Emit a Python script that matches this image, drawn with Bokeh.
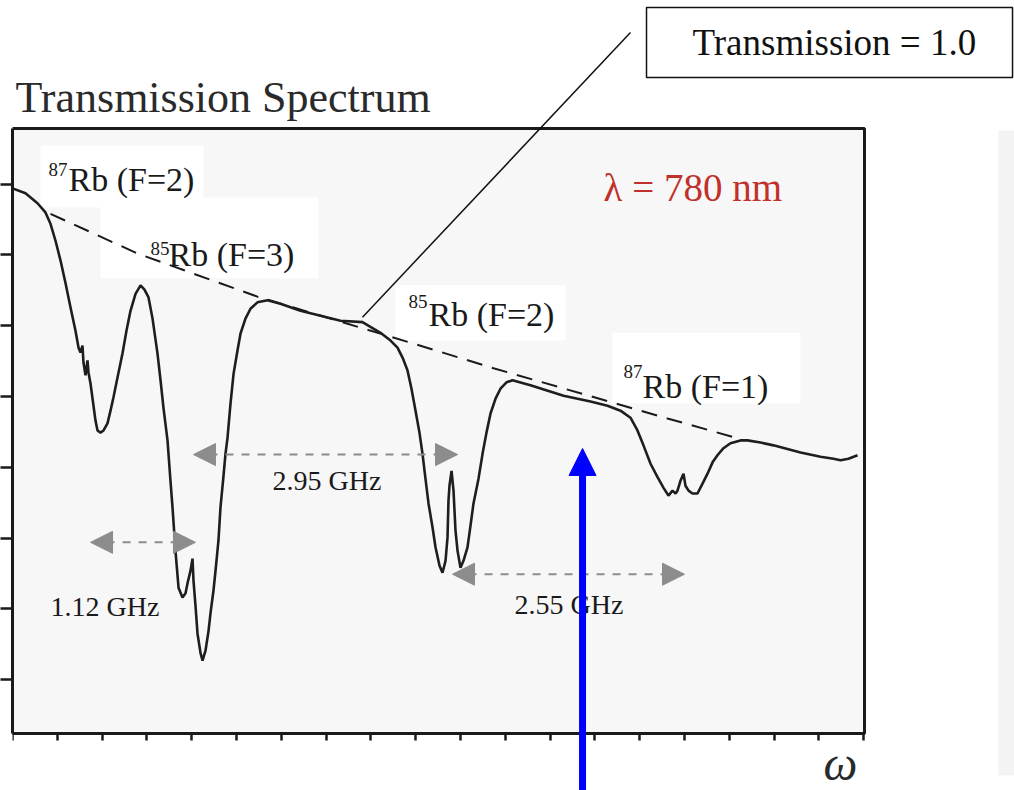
from bokeh.plotting import figure
from bokeh.models import Range1d, FixedTicker, Arrow, NormalHead
from bokeh.core.properties import value
from bokeh.embed import file_html
from bokeh.resources import INLINE

# ---------------- data ----------------
freq_ghz = [0.000, 0.145, 0.279, 0.368, 0.424, 0.480, 0.536, 0.592, 0.647, 0.703,
            0.737, 0.759, 0.781, 0.792, 0.815, 0.837, 0.848, 0.871, 0.904, 0.926,
            0.949, 0.982, 1.016, 1.060, 1.094, 1.127, 1.172, 1.228, 1.272, 1.317,
            1.373, 1.429, 1.473, 1.518, 1.563, 1.618, 1.652, 1.685, 1.730, 1.763,
            1.786, 1.819, 1.853, 1.897, 1.931, 1.953, 1.987, 2.009, 2.020, 2.042,
            2.065, 2.098, 2.121, 2.154, 2.188, 2.210, 2.243, 2.266, 2.299, 2.321,
            2.355, 2.377, 2.400, 2.433, 2.467, 2.511, 2.545, 2.600, 2.656, 2.734,
            2.846, 2.991, 3.214, 3.438, 3.661, 3.906, 4.107, 4.219, 4.297, 4.353,
            4.408, 4.453, 4.498, 4.542, 4.576, 4.609, 4.643, 4.688, 4.721, 4.766,
            4.799, 4.833, 4.855, 4.866, 4.877, 4.900, 4.922, 4.944, 4.967, 5.000,
            5.033, 5.078, 5.112, 5.145, 5.201, 5.246, 5.290, 5.335, 5.391, 5.446,
            5.513, 5.580, 5.781, 6.150, 6.451, 6.641, 6.786, 6.897, 6.975, 7.042,
            7.121, 7.199, 7.266, 7.321, 7.366, 7.400, 7.422, 7.455, 7.489, 7.511,
            7.545, 7.589, 7.645, 7.701, 7.757, 7.813, 7.868, 7.935, 8.013, 8.125,
            8.203, 8.348, 8.493, 8.795, 9.018, 9.163, 9.241, 9.330, 9.431]
transmission = [0.794, 0.787, 0.773, 0.760, 0.744, 0.720, 0.692, 0.660, 0.626, 0.593,
                0.569, 0.562, 0.572, 0.548, 0.530, 0.551, 0.534, 0.518, 0.487, 0.466,
                0.452, 0.449, 0.452, 0.462, 0.480, 0.499, 0.527, 0.561, 0.593, 0.621,
                0.645, 0.657, 0.651, 0.640, 0.610, 0.561, 0.523, 0.484, 0.438, 0.381,
                0.343, 0.282, 0.230, 0.216, 0.222, 0.236, 0.254, 0.271, 0.240, 0.205,
                0.165, 0.138, 0.127, 0.141, 0.169, 0.194, 0.226, 0.254, 0.297, 0.343,
                0.388, 0.419, 0.442, 0.490, 0.532, 0.565, 0.589, 0.610, 0.624, 0.633,
                0.636, 0.631, 0.621, 0.614, 0.607, 0.605, 0.590, 0.579, 0.569, 0.555,
                0.537, 0.511, 0.480, 0.449, 0.419, 0.384, 0.349, 0.315, 0.287, 0.261,
                0.251, 0.268, 0.301, 0.353, 0.374, 0.395, 0.367, 0.311, 0.282, 0.258,
                0.268, 0.287, 0.318, 0.349, 0.384, 0.419, 0.449, 0.476, 0.497, 0.511,
                0.520, 0.523, 0.516, 0.501, 0.493, 0.487, 0.480, 0.470, 0.452, 0.431,
                0.405, 0.386, 0.371, 0.360, 0.367, 0.363, 0.367, 0.381, 0.391, 0.374,
                0.367, 0.363, 0.363, 0.377, 0.391, 0.407, 0.417, 0.427, 0.434, 0.438,
                0.438, 0.435, 0.431, 0.421, 0.415, 0.412, 0.410, 0.412, 0.417]

baseline_x = [0.424, 1.395, 2.734, 4.442, 5.368, 7.310, 8.092]
baseline_y = [0.758, 0.702, 0.641, 0.576, 0.540, 0.469, 0.441]

x_ticks = [0.0, 0.5, 1.0, 1.5, 2.0, 2.5, 3.0, 3.5, 4.0, 4.5,
           5.0, 5.5, 6.0, 6.5, 7.0, 7.5, 8.0, 8.5, 9.0, 9.5]
y_ticks = [0.1, 0.2, 0.3, 0.4, 0.5, 0.6, 0.7, 0.8]

isotopes = ["87", "85", "85", "87"]
line_names = ["Rb (F=2)", "Rb (F=3)", "Rb (F=2)", "Rb (F=1)"]

sep_labels = ["1.12 GHz", "2.95 GHz", "2.55 GHz"]
sep_x0 = [0.871, 2.020, 4.911]
sep_x1 = [2.042, 4.967, 7.500]
sep_y = [0.294, 0.418, 0.249]

probe_freq = 6.362
probe_level = 0.4266

# ---------------- layout / style ----------------
SERIF = "Liberation Serif"
INK = "#1a1a1a"
X_LO, X_HI = 0.0, 9.509          # spectrum box extent
Y_LO, Y_HI = 0.024, 0.8785
LIFT = -0.33                     # baseline correction, in em


def lift(px):
    return round(LIFT * px)


p = figure(width=1014, height=790, output_backend="svg", toolbar_location=None, title=None,
           x_axis_location="above",
           x_range=Range1d(X_LO, 11.183), y_range=Range1d(-0.0565, 1.0537))
p.min_border = 0
p.min_border_left = 12
p.min_border_top = 4
p.outline_line_color = None
p.background_fill_color = "white"
p.border_fill_color = "white"
p.grid.visible = False

# frequency axis, pinned to the bottom edge of the spectrum box, ticks pointing down
xa = p.xaxis[0]
xa.fixed_location = Y_LO
xa.ticker = FixedTicker(ticks=x_ticks)
xa.bounds = (X_LO, X_HI)
xa.axis_line_color = INK
xa.axis_line_width = 3
xa.major_tick_line_color = INK
xa.major_tick_line_width = 2.5
xa.major_tick_in = 7
xa.major_tick_out = 0
xa.minor_tick_line_color = None
xa.major_label_overrides = {t: "" for t in x_ticks}
xa.major_label_text_font_size = "1px"
xa.major_label_standoff = 0

# transmission axis
ya = p.yaxis[0]
ya.ticker = FixedTicker(ticks=y_ticks)
ya.bounds = (Y_LO, Y_HI)
ya.axis_line_color = INK
ya.axis_line_width = 3
ya.major_tick_line_color = INK
ya.major_tick_line_width = 2.5
ya.major_tick_in = 0
ya.major_tick_out = 12
ya.minor_tick_line_color = None
ya.major_label_overrides = {t: "" for t in y_ticks}
ya.major_label_text_font_size = "1px"
ya.major_label_standoff = 0

# faint side panel and callout box
p.quad(left=[11.004], right=[11.3], top=[0.8757], bottom=[-0.0353], fill_color="#f3f3f3", line_color=None)
p.quad(left=[7.076], right=[11.161], top=[1.0494], bottom=[0.9506],
       fill_color="white", line_color="#111111", line_width=1.5)
p.text(x=[7.589], y=[0.983], text=["Transmission = 1.0"], text_font=value(SERIF),
       text_font_size="37px", text_color="#111111", text_baseline="alphabetic", y_offset=lift(37))

# spectrum box
p.quad(left=[X_LO], right=[X_HI], top=[Y_HI], bottom=[Y_LO],
       fill_color="#f7f7f7", line_color=INK, line_width=3)

# title
p.text(x=[0.0335], y=[0.901], text=["Transmission Spectrum"], text_font=value(SERIF),
       text_font_size="44px", text_color="#2a2a2a", text_baseline="alphabetic", y_offset=lift(44))

# label boxes (white)
box_left = [0.3125, 0.982, 4.275, 6.696]
box_right = [2.132, 3.415, 6.172, 8.795]
box_top = [0.8545, 0.781, 0.657, 0.590]
box_bottom = [0.767, 0.667, 0.579, 0.490]
p.quad(left=box_left, right=box_right, top=box_top, bottom=box_bottom,
       fill_color="white", line_color=None)

# dashed baseline (transmission = 1.0)
p.line(baseline_x, baseline_y, line_color=INK, line_width=2, line_dash="16 10")

# spectrum
p.line(freq_ghz, transmission, line_color="#1e1e1e", line_width=2.6)

# connector from callout
p.segment(x0=[6.897], y0=[1.014], x1=[3.906], y1=[0.612], line_color="#111111", line_width=1.5)

# isotope labels
iso_x = [0.402, 1.540, 4.420, 6.819]
iso_y = [0.812, 0.7006, 0.6257, 0.5268]
name_x = [0.625, 1.741, 4.643, 7.031]
name_y = [0.791, 0.685, 0.600, 0.4986]
p.text(x=iso_x, y=iso_y, text=isotopes, text_font=value(SERIF), text_font_size="19px",
       text_color=INK, text_baseline="alphabetic", y_offset=lift(19))
p.text(x=name_x, y=name_y, text=line_names, text_font=value(SERIF), text_font_size="34px",
       text_color=INK, text_baseline="alphabetic", y_offset=lift(34))

# separation arrows
for x0, x1, yy in zip(sep_x0, sep_x1, sep_y):
    p.add_layout(Arrow(x_start=x0, y_start=yy, x_end=x1, y_end=yy,
                       line_color="#8c8c8c", line_width=2, line_dash="8 8",
                       start=NormalHead(size=22, fill_color="#8c8c8c", line_color="#8c8c8c", line_width=1),
                       end=NormalHead(size=22, fill_color="#8c8c8c", line_color="#8c8c8c", line_width=1)))
sep_lx = [0.424, 2.902, 5.603]
sep_ly = [0.191, 0.369, 0.194]
p.text(x=sep_lx, y=sep_ly, text=sep_labels, text_font=value(SERIF), text_font_size="28px",
       text_color=INK, text_baseline="alphabetic", y_offset=lift(28))

# wavelength
p.text(x=[6.596], y=[0.777], text=["λ = 780 nm"], text_font=value(SERIF), text_font_size="39px",
       text_color="#c0312b", text_baseline="alphabetic", y_offset=lift(39))

# omega (frequency axis symbol)
p.text(x=[9.05], y=[-0.041], text=["ω"], text_font=value(SERIF), text_font_style="italic",
       text_font_size="48px", text_color="#2a2a2a", text_baseline="alphabetic", y_offset=lift(48))

# blue probe arrow
p.add_layout(Arrow(x_start=probe_freq, y_start=-0.07, x_end=probe_freq, y_end=probe_level,
                   line_color="#0000ff", line_width=7,
                   end=NormalHead(size=27, fill_color="#0000ff", line_color="#0000ff", line_width=1)))

open("out.html", "w").write(file_html(p, INLINE))
